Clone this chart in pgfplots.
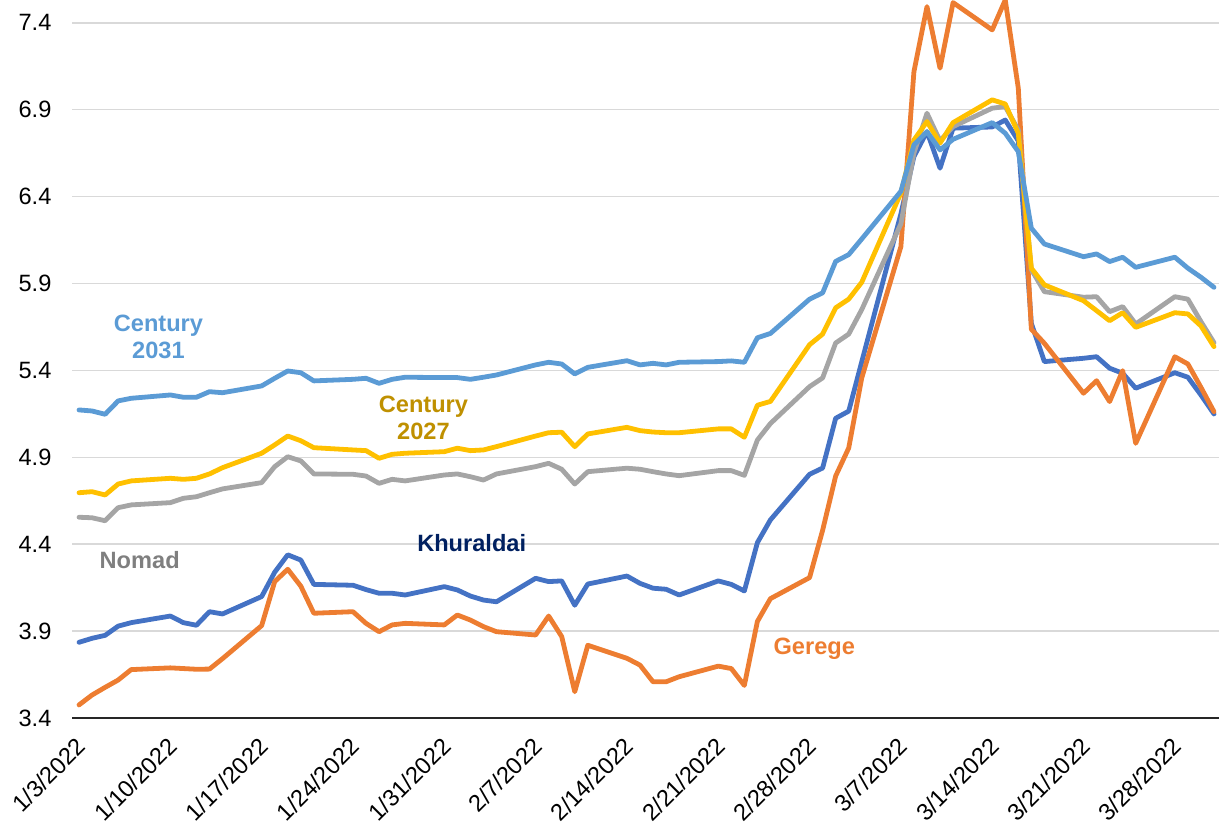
\documentclass[border=0pt]{standalone}
\usepackage{pgfplots}
\pgfplotsset{compat=1.18}
\usepackage{pgfplotstable}
\usepackage{fontspec}
\setmainfont{Liberation Sans}
\usetikzlibrary{calc}
\definecolor{cA}{HTML}{5B9BD5}
\definecolor{cB}{HTML}{FFC000}
\definecolor{cBt}{HTML}{BF9000}
\definecolor{cN}{HTML}{A5A5A5}
\definecolor{cNt}{HTML}{7F7F7F}
\definecolor{cK}{HTML}{4472C4}
\definecolor{cKt}{HTML}{002060}
\definecolor{cG}{HTML}{ED7D31}
\definecolor{gridc}{HTML}{D9D9D9}
\pgfplotstableread{
d c31 c27 nom khu ger
0 5.173 4.697 4.556 3.837 3.477
1 5.167 4.703 4.553 3.860 3.534
2 5.148 4.684 4.536 3.877 3.578
3 5.225 4.747 4.611 3.930 3.620
4 5.240 4.765 4.627 3.950 3.680
7 5.259 4.780 4.640 3.988 3.690
8 5.246 4.774 4.665 3.950 3.686
9 5.246 4.780 4.674 3.935 3.682
10 5.278 4.805 4.697 4.013 3.683
11 5.272 4.841 4.719 4.000 3.743
14 5.311 4.924 4.755 4.100 3.933
15 5.355 4.972 4.847 4.240 4.186
16 5.397 5.023 4.904 4.340 4.257
17 5.387 4.996 4.880 4.310 4.160
18 5.340 4.956 4.805 4.170 4.004
21 5.349 4.943 4.803 4.165 4.013
22 5.355 4.939 4.793 4.140 3.946
23 5.326 4.895 4.751 4.119 3.898
24 5.349 4.918 4.774 4.119 3.937
25 5.361 4.924 4.765 4.109 3.946
28 5.359 4.933 4.799 4.157 3.937
29 5.359 4.953 4.805 4.138 3.994
30 5.349 4.939 4.789 4.103 3.965
31 5.361 4.943 4.770 4.080 3.927
32 5.374 4.962 4.805 4.070 3.898
35 5.432 5.023 4.847 4.205 3.879
36 5.447 5.042 4.866 4.186 3.988
37 5.437 5.045 4.832 4.190 3.870
38 5.380 4.962 4.747 4.050 3.553
39 5.418 5.035 4.818 4.172 3.820
42 5.456 5.073 4.838 4.218 3.745
43 5.432 5.054 4.832 4.176 3.706
44 5.441 5.046 4.818 4.148 3.610
45 5.432 5.042 4.805 4.142 3.610
46 5.447 5.042 4.795 4.109 3.639
49 5.451 5.064 4.824 4.190 3.700
50 5.455 5.064 4.824 4.170 3.686
51 5.447 5.016 4.797 4.132 3.589
52 5.588 5.200 5.000 4.410 3.957
53 5.613 5.222 5.095 4.541 4.088
56 5.810 5.548 5.307 4.803 4.209
57 5.846 5.609 5.357 4.839 4.481
58 6.027 5.760 5.558 5.125 4.793
59 6.066 5.810 5.609 5.166 4.954
60 6.156 5.907 5.750 5.450 5.357
63 6.430 6.420 6.243 6.300 6.112
64 6.697 6.725 6.650 6.630 7.118
65 6.773 6.831 6.879 6.773 7.492
66 6.668 6.707 6.720 6.563 7.138
67 6.729 6.825 6.802 6.793 7.515
70 6.825 6.956 6.908 6.800 7.358
71 6.764 6.932 6.917 6.840 7.530
72 6.658 6.764 6.783 6.720 7.023
73 6.218 5.988 5.980 5.671 5.637
74 6.127 5.892 5.853 5.451 5.556
77 6.054 5.801 5.821 5.470 5.269
78 6.070 5.744 5.824 5.479 5.341
79 6.026 5.686 5.738 5.413 5.221
80 6.051 5.732 5.767 5.384 5.399
81 5.993 5.648 5.667 5.298 4.981
84 6.051 5.732 5.824 5.387 5.479
85 5.988 5.725 5.810 5.361 5.437
86 5.936 5.656 5.681 5.259 5.303
87 5.878 5.537 5.560 5.150 5.163
}\data
\begin{document}
\begin{tikzpicture}
\begin{axis}[
  name=ax,
  scale only axis,
  width=574pt, height=359.15pt,
  xmin=-0.5, xmax=87.5,
  ymin=3.4, ymax=7.53,
  axis x line=bottom,
  axis y line=left,
  x axis line style={black!85, line width=1pt, -},
  y axis line style={draw=none},
  ytick={3.4,3.9,4.4,4.9,5.4,5.9,6.4,6.9,7.4},
  yticklabels={3.4,3.9,4.4,4.9,5.4,5.9,6.4,6.9,7.4},
  ymajorgrids,
  grid style={gridc, line width=0.9pt},
  xtick={0,7,14,21,28,35,42,49,56,63,70,77,84},
  xticklabels={1/3/2022,1/10/2022,1/17/2022,1/24/2022,1/31/2022,2/7/2022,2/14/2022,2/21/2022,2/28/2022,3/7/2022,3/14/2022,3/21/2022,3/28/2022},
  major tick length=0pt,
  tick label style={font=\fontsize{11.8}{14}\selectfont},
  x tick label style={xshift=-2pt, yshift=-4pt, rotate=45, anchor=north east},
  y tick label style={xshift=-7pt, anchor=east},
  /pgf/number format/assume math mode=true,
  every axis plot/.append style={line width=2.4pt, line join=round, line cap=round, no marks},
]
\addplot[cK] table[x=d,y=khu]{\data};
\addplot[cG] table[x=d,y=ger]{\data};
\addplot[cN] table[x=d,y=nom]{\data};
\addplot[cB] table[x=d,y=c27]{\data};
\addplot[cA] table[x=d,y=c31]{\data};
\node[font=\fontsize{11.8}{13.5}\selectfont\bfseries, text=cA, align=center] at (axis cs:6.09,5.593) {Century\\2031};
\node[font=\fontsize{11.8}{13.5}\selectfont\bfseries, text=cBt, align=center] at (axis cs:26.4,5.13) {Century\\2027};
\node[font=\fontsize{11.8}{13.5}\selectfont\bfseries, text=cNt] at (axis cs:4.65,4.31) {Nomad};
\node[font=\fontsize{11.8}{13.5}\selectfont\bfseries, text=cKt] at (axis cs:30.1,4.41) {Khuraldai};
\node[font=\fontsize{11.8}{13.5}\selectfont\bfseries, text=cG] at (axis cs:56.36,3.80) {Gerege};
\end{axis}
\pgfresetboundingbox
\path[use as bounding box] ($(ax.south west)+(-36.25pt,-56.35pt)$) rectangle ($(ax.north east)+(-0.75pt,0pt)$);
\end{tikzpicture}
\end{document}
